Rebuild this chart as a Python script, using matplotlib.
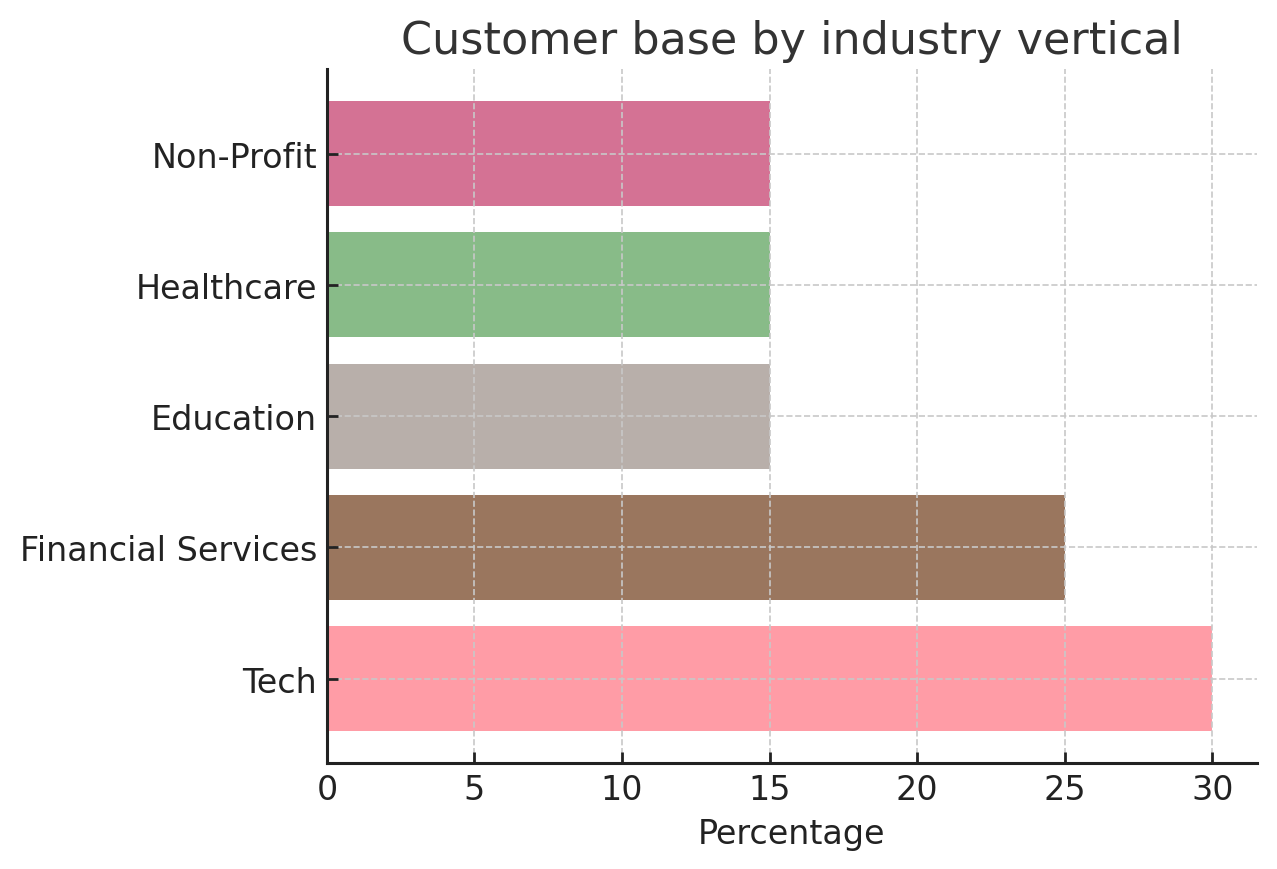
import matplotlib
matplotlib.use('Agg')
import matplotlib.pyplot as plt

industries = ['Tech', 'Financial Services', 'Education', 'Healthcare', 'Non-Profit']
percentages = [30, 25, 15, 15, 15]
bar_colors = ['#ff9ca6', '#9a765e', '#b8afaa', '#88bb88', '#d47294']

fig = plt.figure(figsize=(6.385, 4.35), dpi=200)
ax = fig.add_axes([0.256, 0.122, 0.728, 0.797])

ax.barh(industries, percentages, color=bar_colors, height=0.8)
ax.set_axisbelow(False)
ax.grid(True, linestyle='--', color='#c8c8c8', linewidth=0.6)

ax.set_xticks([0, 5, 10, 15, 20, 25, 30])
ax.set_xlabel('Percentage', fontsize=12, color='#222222')
ax.set_title('Customer base by industry vertical', fontsize=16, color='#333333')
ax.tick_params(direction='in', labelsize=12, colors='#222222', length=4,
               width=1.0)
for s in ['top', 'right']:
    ax.spines[s].set_visible(False)
for s in ['left', 'bottom']:
    ax.spines[s].set_color('#222222')
    ax.spines[s].set_linewidth(1.1)
    ax.spines[s].set_zorder(5)

fig.savefig('out.png', dpi=200)
